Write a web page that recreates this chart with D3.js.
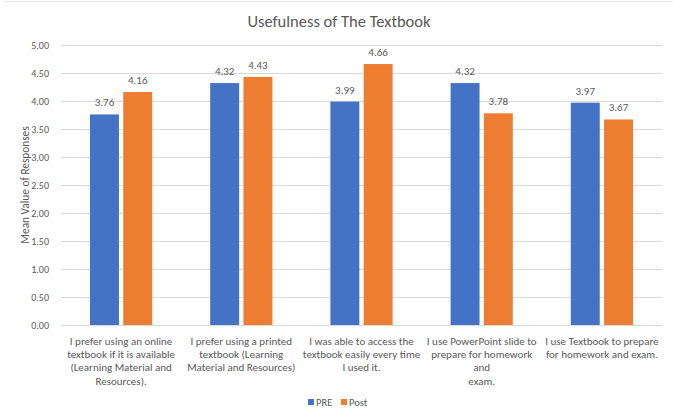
<!DOCTYPE html>
<html>
<head>
<meta charset="utf-8">
<script src="https://cdn.jsdelivr.net/npm/d3@7"></script>
<style>
  body { margin: 0; background: #fff; }
  text { font-family: Calibri, Carlito, "Open Sans", sans-serif; fill: #595959; }
</style>
</head>
<body>
<svg id="chart" width="674" height="409"></svg>
<script>
const categories = [
  ['I prefer using an online', 'textbook if it is available', '(Learning Material and', 'Resources).'],
  ['I prefer using a printed', 'textbook (Learning', 'Material and Resources)'],
  ['I was able to access the', 'textbook easily every time', 'I used it.'],
  ['I use PowerPoint slide to', 'prepare for homework', 'and', 'exam.'],
  ['I use Textbook to prepare', 'for homework and exam.']
];
const seriesNames = ['PRE', 'Post'];
const preValues = [3.76, 4.32, 3.99, 4.32, 3.97];
const postValues = [4.16, 4.43, 4.66, 3.78, 3.67];
const yTicks = [0, 0.5, 1, 1.5, 2, 2.5, 3, 3.5, 4, 4.5, 5];
const colors = ['#4472C4', '#ED7D31'];

const svg = d3.select('#chart');
const margin = { left: 61, right: 12, top: 45, bottom: 84 };
const W = 674, H = 409;

// faint frame line at top
svg.append('line')
  .attr('x1', 4).attr('x2', 673).attr('y1', 1.5).attr('y2', 1.5)
  .attr('stroke', '#e6e6e6').attr('stroke-width', 1);

const x = d3.scaleBand()
  .domain(d3.range(categories.length))
  .range([margin.left, W - margin.right]);

const x1 = d3.scaleBand()
  .domain(seriesNames)
  .range([29, x.bandwidth() - 29])
  .paddingInner(0.13);

const y = d3.scaleLinear()
  .domain([0, 5])
  .range([H - margin.bottom, margin.top]);

// gridlines
svg.append('g')
  .selectAll('line')
  .data(yTicks)
  .join('line')
  .attr('x1', margin.left).attr('x2', W - margin.right)
  .attr('y1', d => Math.round(y(d)) + 0.5).attr('y2', d => Math.round(y(d)) + 0.5)
  .attr('stroke', '#d9d9d9').attr('stroke-width', 1);

// y tick labels
svg.append('g')
  .selectAll('text')
  .data(yTicks)
  .join('text')
  .attr('x', 49)
  .attr('y', d => y(d))
  .attr('dy', '0.35em')
  .attr('text-anchor', 'end')
  .style('font-size', '10px')
  .text(d => d3.format('.2f')(d));

// y axis title
svg.append('text')
  .attr('transform', `translate(25,${(y(0) + y(5)) / 2}) rotate(-90)`)
  .attr('text-anchor', 'middle')
  .attr('dy', '0.35em')
  .style('font-size', '11.3px')
  .text('Mean Value of Responses');

// title
svg.append('text')
  .attr('x', 339)
  .attr('y', 21)
  .attr('text-anchor', 'middle')
  .attr('dy', '0.35em')
  .style('font-size', '16.5px')
  .text('Usefulness of The Textbook');

// bars
const rows = categories.map((c, i) => ({ i, values: [preValues[i], postValues[i]] }));
const groups = svg.append('g')
  .selectAll('g')
  .data(rows)
  .join('g')
  .attr('transform', d => `translate(${x(d.i)},0)`);

groups.selectAll('rect')
  .data(d => d.values.map((v, k) => ({ k, v })))
  .join('rect')
  .attr('x', d => x1(seriesNames[d.k]))
  .attr('width', x1.bandwidth())
  .attr('y', d => y(d.v))
  .attr('height', d => y(0) - y(d.v))
  .attr('fill', d => colors[d.k]);

groups.selectAll('text.val')
  .data(d => d.values.map((v, k) => ({ k, v })))
  .join('text')
  .attr('class', 'val')
  .attr('x', d => x1(seriesNames[d.k]) + x1.bandwidth() / 2)
  .attr('y', d => y(d.v) - 8)
  .attr('text-anchor', 'middle')
  .style('font-size', '11px')
  .text(d => d3.format('.2f')(d.v));

// category labels
const catG = svg.append('g')
  .selectAll('text')
  .data(categories)
  .join('text')
  .attr('x', (d, i) => x(i) + x.bandwidth() / 2)
  .attr('y', 341)
  .attr('text-anchor', 'middle')
  .style('font-size', '11px');
catG.selectAll('tspan')
  .data(d => d)
  .join('tspan')
  .attr('x', function () { return this.parentNode.getAttribute('x'); })
  .attr('dy', (d, j) => j === 0 ? '0.35em' : '13.3')
  .text(d => d);

// legend
const legendX = [308, 341];
const legend = svg.append('g')
  .selectAll('g')
  .data(seriesNames)
  .join('g')
  .attr('transform', (d, i) => `translate(${legendX[i]},402)`);
legend.append('rect')
  .attr('x', 0).attr('y', -3).attr('width', 6).attr('height', 6)
  .attr('fill', (d, i) => colors[i]);
legend.append('text')
  .attr('x', 8).attr('dy', '0.35em')
  .style('font-size', '10.5px')
  .text(d => d);
</script>
</body>
</html>
